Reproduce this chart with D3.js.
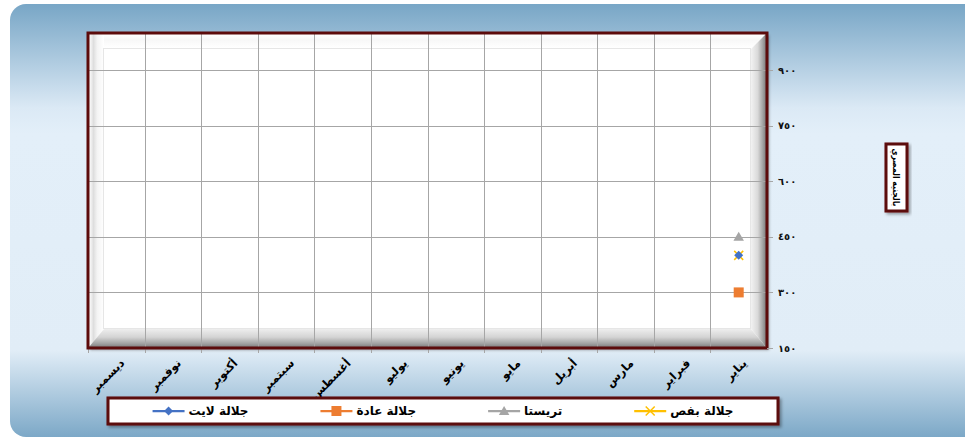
<!DOCTYPE html>
<html>
<head>
<meta charset="utf-8">
<script src="https://cdn.jsdelivr.net/npm/d3@7/dist/d3.min.js"></script>
<style>
  html, body { margin: 0; padding: 0; background: #ffffff; }
  svg { display: block; }
  text { font-family: "DejaVu Sans", "Noto Sans", sans-serif; }
</style>
</head>
<body>
<svg id="chart" width="965" height="437"></svg>
<script>
// ---------------- DATA ----------------
const months = ["يناير","فبراير","مارس","أبريل","مايو","يونيو","يوليو","أغسطس","سبتمبر","أكتوبر","نوفمبر","ديسمبر"];
const seriesNames = ["جلالة بفص","تريستا","جلالة عادة","جلالة لايت"];
const seriesColors = ["#ffc000","#a5a5a5","#ed7d31","#4472c4"];
const seriesMarkers = ["x","triangle","square","diamond"];
const jalalaBafs  = [400, null, null, null, null, null, null, null, null, null, null, null];
const tresta      = [450, null, null, null, null, null, null, null, null, null, null, null];
const jalalaAda   = [300, null, null, null, null, null, null, null, null, null, null, null];
const jalalaLight = [400, null, null, null, null, null, null, null, null, null, null, null];
const seriesValues = [jalalaBafs, tresta, jalalaAda, jalalaLight];
const yTicks = [150, 300, 450, 600, 750, 900];
const yDomain = [150, 1000];
const yTitle = "بالجنيه المصري";

// ---------------- HELPERS ----------------
const arDigits = "٠١٢٣٤٥٦٧٨٩";
const toArabic = v => String(v).replace(/\d/g, c => arDigits[+c]);

const W = 965, H = 437;
const plot = { left: 88, right: 767, top: 33, bottom: 348 };
const dark = "#5c0b0b";

const svg = d3.select("#chart");
const defs = svg.append("defs");

// background gradient
const bg = defs.append("linearGradient").attr("id","bgGrad").attr("x1",0).attr("y1",0).attr("x2",0).attr("y2",1);
bg.append("stop").attr("offset","0").attr("stop-color","#78a6c6");
bg.append("stop").attr("offset","0.24").attr("stop-color","#dbe9f5");
bg.append("stop").attr("offset","0.30").attr("stop-color","#e3eff9");
bg.append("stop").attr("offset","0.80").attr("stop-color","#e1edf7");
bg.append("stop").attr("offset","1").attr("stop-color","#7ca8c7");

// shadow
const sh = defs.append("filter").attr("id","shadow").attr("x","-10%").attr("y","-10%").attr("width","130%").attr("height","140%");
sh.append("feDropShadow").attr("dx",2).attr("dy",2).attr("stdDeviation",1.5).attr("flood-color","#000").attr("flood-opacity",0.35);

// bevel gradients
function grad(id, x2, y2, stops) {
  const g = defs.append("linearGradient").attr("id", id).attr("x1",0).attr("y1",0).attr("x2",x2).attr("y2",y2);
  stops.forEach(s => g.append("stop").attr("offset", s[0]).attr("stop-color", s[1]));
}
grad("bevL", 1, 0, [["0","#ffffff"],["0.3","#dedede"],["0.55","#f4f4f4"],["1","#ffffff"]]);
grad("bevT", 0, 1, [["0","#ffffff"],["0.4","#f7f7f7"],["1","#ffffff"]]);
grad("bevR", 1, 0, [["0","#f2f2f2"],["0.45","#d9d9d9"],["0.8","#a0a0a0"],["1","#7d7d7d"]]);
grad("bevB", 0, 1, [["0","#eeeeee"],["0.45","#d4d4d4"],["0.8","#a3a3a3"],["1","#808080"]]);

// background panel
svg.append("rect").attr("x",10).attr("y",4).attr("width",W+20).attr("height",H-4)
  .attr("rx",16).attr("fill","url(#bgGrad)");

// ---------------- SCALES ----------------
const x = d3.scaleBand().domain(months).range([plot.right, plot.left]);
const y = d3.scaleLinear().domain(yDomain).range([plot.bottom, plot.top]);

// ---------------- PLOT AREA ----------------
const pw = plot.right - plot.left, ph = plot.bottom - plot.top;
svg.append("rect").attr("x",plot.left).attr("y",plot.top).attr("width",pw).attr("height",ph)
  .attr("fill","#ffffff").attr("filter","url(#shadow)");
// bevel strips
svg.append("rect").attr("x",plot.left+1).attr("y",plot.top+1).attr("width",pw-2).attr("height",14).attr("fill","url(#bevT)");
svg.append("rect").attr("x",plot.left+1).attr("y",plot.top+1).attr("width",15).attr("height",ph-2).attr("fill","url(#bevL)");
svg.append("path")
  .attr("d",`M${plot.left+1},${plot.bottom-1} L${plot.left+16},${plot.bottom-19} L${plot.right-16},${plot.bottom-19} L${plot.right-1},${plot.bottom-1} Z`)
  .attr("fill","url(#bevB)");
svg.append("path")
  .attr("d",`M${plot.right-1},${plot.top+1} L${plot.right-16},${plot.top+16} L${plot.right-16},${plot.bottom-19} L${plot.right-1},${plot.bottom-1} Z`)
  .attr("fill","url(#bevR)");
// inner light outline
svg.append("rect").attr("x",plot.left+15.5).attr("y",plot.top+15.5).attr("width",pw-32).attr("height",ph-35)
  .attr("fill","none").attr("stroke","#e6e6e6").attr("stroke-width",1);

// grid lines (horizontal) with ticks
const grid = svg.append("g");
grid.selectAll("line.h").data(yTicks.filter(t => t > yDomain[0])).enter().append("line")
  .attr("x1",plot.left).attr("x2",plot.right+6)
  .attr("y1",d => Math.round(y(d))+0.5).attr("y2",d => Math.round(y(d))+0.5)
  .attr("stroke","#a6a6a6").attr("stroke-width",1);
// vertical grid lines at category boundaries (also ticks below)
const bounds = months.map(m => x(m)).concat([plot.left]);
grid.selectAll("line.v").data(bounds).enter().append("line")
  .attr("x1",d => Math.round(d)+0.5).attr("x2",d => Math.round(d)+0.5)
  .attr("y1",plot.top).attr("y2",plot.bottom+5)
  .attr("stroke","#a6a6a6").attr("stroke-width",1);

// plot border
svg.append("rect").attr("x",plot.left).attr("y",plot.top).attr("width",pw).attr("height",ph)
  .attr("fill","none").attr("stroke",dark).attr("stroke-width",3);

// y ticks on right (base tick)
svg.append("line").attr("x1",plot.right).attr("x2",plot.right+6)
  .attr("y1",y(yDomain[0])+0.5).attr("y2",y(yDomain[0])+0.5).attr("stroke","#a6a6a6");

// y tick labels
svg.append("g").selectAll("text").data(yTicks).enter().append("text")
  .attr("x",plot.right+11).attr("y",d => y(d)).attr("dy","0.35em")
  .attr("text-anchor","start").attr("font-size",10).attr("font-weight","bold").attr("fill","#111")
  .attr("direction","ltr")
  .text(d => toArabic(d));

// x labels
svg.append("g").selectAll("text").data(months).enter().append("text")
  .attr("transform",d => `translate(${x(d)+x.bandwidth()/2+6},${plot.bottom+13}) rotate(-45)`)
  .attr("text-anchor","end").attr("dy","0.35em")
  .attr("font-size",11.5).attr("font-weight","bold").attr("fill","#000")
  .text(d => d);

// ---------------- MARKERS ----------------
function drawMarker(g, type, color, cx, cy) {
  if (type === "square") {
    g.append("rect").attr("x",cx-5).attr("y",cy-5).attr("width",10).attr("height",10).attr("fill",color);
  } else if (type === "triangle") {
    g.append("path").attr("d",d3.symbol().type(d3.symbolTriangle).size(48)()).attr("transform",`translate(${cx},${cy+1})`).attr("fill",color);
  } else if (type === "diamond") {
    g.append("path").attr("d",`M${cx},${cy-4.5} L${cx+4.5},${cy} L${cx},${cy+4.5} L${cx-4.5},${cy} Z`).attr("fill",color);
  } else if (type === "x") {
    g.append("path").attr("d",`M${cx-4.5},${cy-4.5} L${cx+4.5},${cy+4.5} M${cx+4.5},${cy-4.5} L${cx-4.5},${cy+4.5}`)
      .attr("stroke",color).attr("stroke-width",1.5).attr("fill","none");
  }
}

const marks = svg.append("g");
seriesValues.forEach((vals, si) => {
  const line = d3.line().defined(v => v != null)
    .x((v, i) => x(months[i]) + x.bandwidth()/2).y(v => y(v));
  marks.append("path").datum(vals).attr("d", line).attr("fill","none")
    .attr("stroke",seriesColors[si]).attr("stroke-width",2.25);
  vals.forEach((v, i) => {
    if (v == null) return;
    drawMarker(marks, seriesMarkers[si], seriesColors[si], x(months[i]) + x.bandwidth()/2, y(v));
  });
});

// ---------------- Y AXIS TITLE ----------------
svg.append("rect").attr("x",886).attr("y",144).attr("width",21).attr("height",67)
  .attr("fill","#ffffff").attr("stroke",dark).attr("stroke-width",3).attr("filter","url(#shadow)");
svg.append("text").attr("transform","translate(896.5,177.5) rotate(90)")
  .attr("text-anchor","middle").attr("dy","0.35em")
  .attr("font-size",9).attr("font-weight","bold").attr("fill","#000")
  .attr("textLength",58).attr("lengthAdjust","spacingAndGlyphs")
  .text(yTitle);

// ---------------- LEGEND ----------------
const lg = { x: 108, y: 398, w: 670, h: 26 };
svg.append("rect").attr("x",lg.x).attr("y",lg.y).attr("width",lg.w).attr("height",lg.h)
  .attr("fill","#ffffff").attr("stroke",dark).attr("stroke-width",3).attr("filter","url(#shadow)");
const legendG = svg.append("g");
const cy = lg.y + lg.h/2;
const lineLen = 32, gapText = 4, gapEntry = 72;
const widths = seriesNames.map(n => {
  const t = legendG.append("text").attr("font-size",12).attr("font-weight","bold").text(n);
  const w = t.node().getComputedTextLength(); t.remove(); return w;
});
const total = widths.reduce((a,b)=>a+b,0) + seriesNames.length*(lineLen+gapText) + (seriesNames.length-1)*gapEntry;
let cursor = lg.x + lg.w/2 + total/2;
seriesNames.forEach((n, i) => {
  legendG.append("text").attr("x",cursor).attr("y",cy).attr("dy","0.35em")
    .attr("text-anchor","end").attr("font-size",12).attr("font-weight","bold").attr("fill","#000").text(n);
  const lineR = cursor - widths[i] - gapText;
  const lineL = lineR - lineLen;
  legendG.append("line").attr("x1",lineL).attr("x2",lineR).attr("y1",cy).attr("y2",cy)
    .attr("stroke",seriesColors[i]).attr("stroke-width",2.25);
  drawMarker(legendG, seriesMarkers[i], seriesColors[i], (lineL+lineR)/2, cy);
  cursor = lineL - gapEntry;
});
</script>
</body>
</html>
